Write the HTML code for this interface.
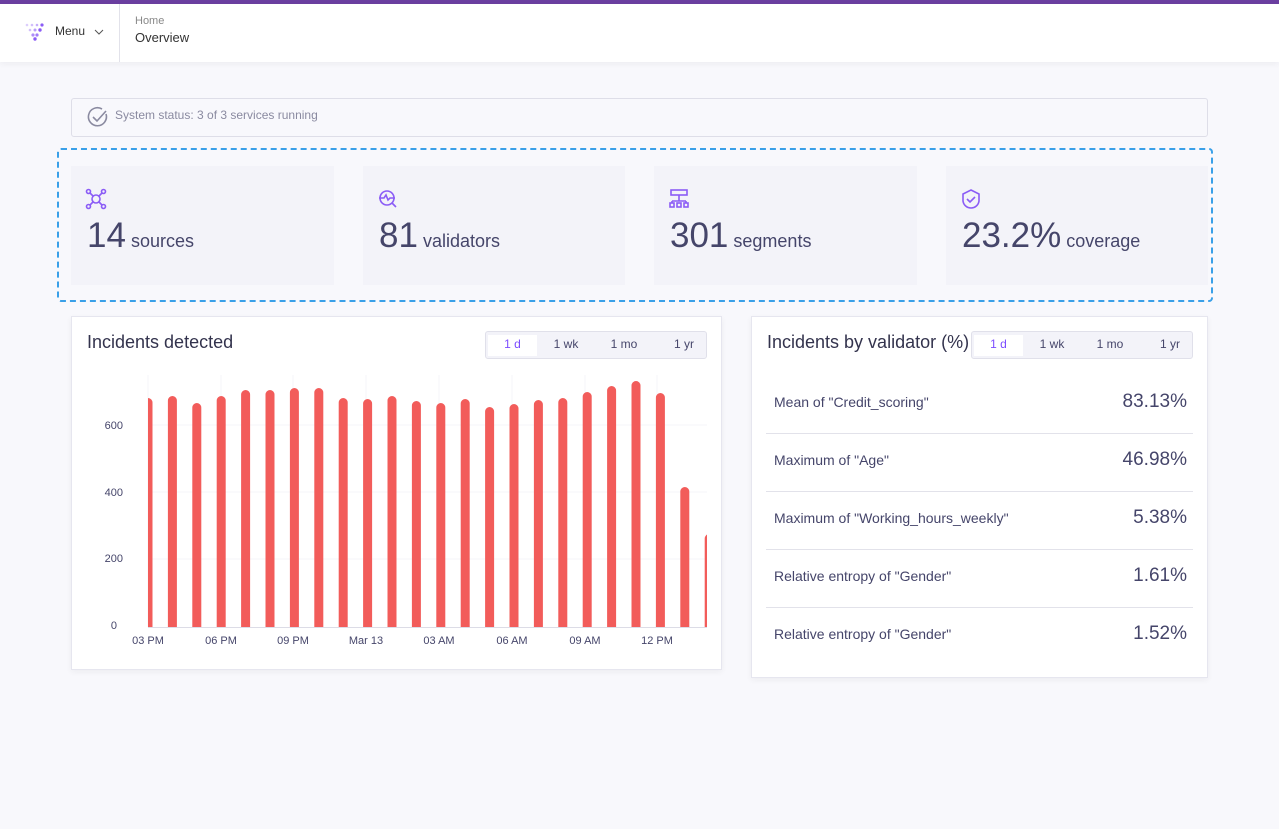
<!DOCTYPE html>
<html><head><meta charset="utf-8"><style>
*{margin:0;padding:0;box-sizing:border-box}
body{width:1279px;height:829px;background:#f8f8fc;font-family:"Liberation Sans",sans-serif;position:relative;overflow:hidden;color:#3b3b5c}
.abs{position:absolute}
.card{position:absolute;background:#f3f3f9;top:166px;height:119px}
.card svg{position:absolute;left:14px;top:22px}
.num{position:absolute;left:16px;top:50px;font-size:35px;color:#45456a;white-space:nowrap}
.num span{font-size:18px;margin-left:5px}
.panel{position:absolute;background:#fff;border:1px solid #e6e6ef;box-shadow:0 2px 6px rgba(0,0,30,.05)}
.tabs{position:absolute;background:#f3f3f9;border:1px solid #e0e0ea;border-radius:3px;height:28px;font-size:12px;color:#45456a}
.tabs div{position:absolute;top:3px;height:21px;line-height:19px;text-align:center}
.row{position:absolute;left:14px;right:14px;height:58px;border-bottom:1px solid #e2e2ea;font-size:14px}
.row .l{position:absolute;left:8px;top:18px;color:#45456a}
.row .r{position:absolute;right:6px;top:15px;font-size:19px;color:#45456a}
</style></head><body>
<div class="abs" style="left:0;top:0;width:1279px;height:4px;background:#6b3fa0"></div>
<div class="abs" style="left:0;top:4px;width:1279px;height:58px;background:#fff;box-shadow:0 2px 6px rgba(0,0,40,.05)"></div>
<svg class="abs" style="left:24px;top:22px" width="22" height="20"><g fill="#8b5cf6"><circle cx="3" cy="3" r="1.3" opacity=".3"/><circle cx="8" cy="3" r="1.3" opacity=".4"/><circle cx="13" cy="3" r="1.3" opacity=".5"/><circle cx="18" cy="3" r="1.6"/><circle cx="6" cy="8" r="1.3" opacity=".4"/><circle cx="11" cy="8" r="1.5" opacity=".6"/><circle cx="16" cy="8" r="1.7"/><circle cx="9" cy="13" r="1.6" opacity=".7"/><circle cx="13" cy="13" r="1.6" opacity=".8"/><circle cx="11" cy="17" r="1.7"/></g></svg>
<div class="abs" style="left:55px;top:24px;font-size:12px;color:#333">Menu</div>
<svg class="abs" style="left:94px;top:28px" width="10" height="8"><path d="M1 2l4 4 4-4" stroke="#555" fill="none"/></svg>
<div class="abs" style="left:119px;top:4px;width:1px;height:58px;background:#e2e2ea"></div>
<div class="abs" style="left:135px;top:15px;font-size:11px;color:#888">Home</div>
<div class="abs" style="left:135px;top:30px;font-size:13px;color:#333">Overview</div>

<div class="abs" style="left:71px;top:98px;width:1137px;height:39px;background:#f8f8fc;border:1px solid #dedee8;border-radius:3px"></div>
<svg class="abs" style="left:87px;top:106px" width="22" height="22"><path d="M19 8a9 9 0 1 1-4-5" stroke="#8a8aa0" stroke-width="1.6" fill="none"/><path d="M6 11l4 4 9-10" stroke="#8a8aa0" stroke-width="1.6" fill="none"/></svg>
<div class="abs" style="left:115px;top:108px;font-size:12px;color:#8a8aa0">System status: 3 of 3 services running</div>

<div class="abs" style="left:57px;top:148px;width:1156px;height:154px;border:2px dashed #3aa0e8;border-radius:4px"></div>
<div class="card" style="left:71px;width:263px"><svg width="22" height="22" fill="none" stroke="#8b5cf6" stroke-width="1.6"><circle cx="11" cy="11" r="4"/><circle cx="3.5" cy="3.5" r="2"/><circle cx="18.5" cy="3.5" r="2"/><circle cx="3.5" cy="18.5" r="2"/><circle cx="18.5" cy="18.5" r="2"/><path d="M5 5l3 3M17 5l-3 3M5 17l3-3M17 17l-3-3"/></svg><div class="num">14<span>sources</span></div></div>
<div class="card" style="left:363px;width:262px"><svg width="22" height="22" fill="none" stroke="#8b5cf6" stroke-width="1.6"><circle cx="10" cy="10" r="7"/><path d="M2 10h5l2-3 2 5 2-2h5M15 15l4 4"/></svg><div class="num">81<span>validators</span></div></div>
<div class="card" style="left:654px;width:263px"><svg width="22" height="22" fill="none" stroke="#8b5cf6" stroke-width="1.6"><rect x="3" y="2" width="16" height="5"/><path d="M11 7v6M4 13h14M4 13v2M18 13v2"/><rect x="2" y="15" width="4" height="4"/><rect x="9" y="15" width="4" height="4"/><rect x="16" y="15" width="4" height="4"/></svg><div class="num">301<span>segments</span></div></div>
<div class="card" style="left:946px;width:262px"><svg width="22" height="22" fill="none" stroke="#8b5cf6" stroke-width="1.6"><path d="M11 2l8 4v7a8 8 0 0 1-8 7 8 8 0 0 1-8-7V6z"/><path d="M7 11l3 3 5-5"/></svg><div class="num">23.2%<span>coverage</span></div></div>

<div class="panel" style="left:71px;top:316px;width:651px;height:354px">
<div class="abs" style="left:15px;top:15px;font-size:18px;color:#33334d">Incidents detected</div>
<div class="tabs" style="left:413px;top:14px;width:222px"><div style="left:2px;width:49px;background:#fff;color:#7c4dff">1 d</div><div style="left:60px;width:40px">1 wk</div><div style="left:118px;width:40px">1 mo</div><div style="left:178px;width:40px">1 yr</div></div>
</div>
<svg class="abs" style="left:0;top:0" width="722" height="660">
<defs><clipPath id="c"><rect x="148" y="370" width="559" height="257"/></clipPath></defs>
<g stroke="#f4f4f8"><line x1="148" y1="425" x2="707" y2="425"/><line x1="148" y1="492" x2="707" y2="492"/><line x1="148" y1="559" x2="707" y2="559"/>
<line x1="148" y1="375" x2="148" y2="627"/><line x1="221" y1="375" x2="221" y2="627"/><line x1="293" y1="375" x2="293" y2="627"/><line x1="366" y1="375" x2="366" y2="627"/><line x1="439" y1="375" x2="439" y2="627"/><line x1="512" y1="375" x2="512" y2="627"/><line x1="585" y1="375" x2="585" y2="627"/><line x1="657" y1="375" x2="657" y2="627"/></g>
<g fill="#f25c5a" clip-path="url(#c)" id="bars"></g>
<line x1="148" y1="627.5" x2="707" y2="627.5" stroke="#dcdce6"/>
<g font-size="11" fill="#45456a" font-family="Liberation Sans,sans-serif" text-anchor="end"><text x="123" y="429">600</text><text x="123" y="496">400</text><text x="123" y="562">200</text><text x="117" y="629">0</text></g>
<g font-size="11" fill="#45456a" font-family="Liberation Sans,sans-serif" text-anchor="middle"><text x="148" y="644">03 PM</text><text x="221" y="644">06 PM</text><text x="293" y="644">09 PM</text><text x="366" y="644">Mar 13</text><text x="439" y="644">03 AM</text><text x="512" y="644">06 AM</text><text x="585" y="644">09 AM</text><text x="657" y="644">12 PM</text></g>
</svg>

<div class="panel" style="left:751px;top:316px;width:457px;height:362px">
<div class="abs" style="left:15px;top:15px;font-size:18px;color:#33334d">Incidents by validator (%)</div>
<div class="tabs" style="left:219px;top:14px;width:222px"><div style="left:2px;width:49px;background:#fff;color:#7c4dff">1 d</div><div style="left:60px;width:40px">1 wk</div><div style="left:118px;width:40px">1 mo</div><div style="left:178px;width:40px">1 yr</div></div>
<div class="row" style="top:59px"><div class="l">Mean of "Credit_scoring"</div><div class="r">83.13%</div></div>
<div class="row" style="top:117px"><div class="l">Maximum of "Age"</div><div class="r">46.98%</div></div>
<div class="row" style="top:175px"><div class="l">Maximum of "Working_hours_weekly"</div><div class="r">5.38%</div></div>
<div class="row" style="top:233px"><div class="l">Relative entropy of "Gender"</div><div class="r">1.61%</div></div>
<div class="row" style="top:291px;border:none"><div class="l">Relative entropy of "Gender"</div><div class="r">1.52%</div></div>
</div>
<script>
var tops=[398,396,403,396,390,390,388,388,398,399,396,401,403,399,407,404,400,398,392,386,381,393,487,534];
var g=document.getElementById('bars'),s='';
tops.forEach(function(t,i){var cx=148+i*24.4;s+='<rect x="'+(cx-4.5)+'" y="'+t+'" width="9" height="'+(640-t)+'" rx="4.5"/>';});
g.innerHTML=s;
</script>
</body></html>
